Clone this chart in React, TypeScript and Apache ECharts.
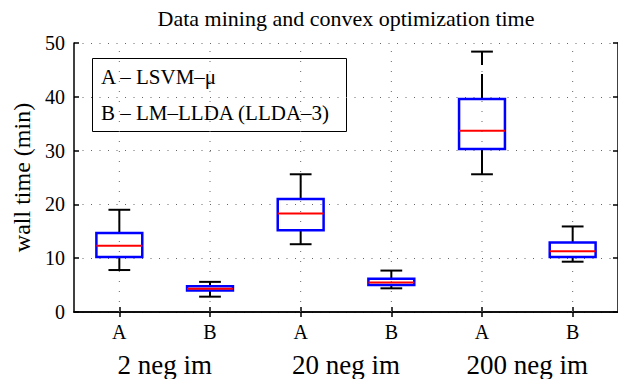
import React, { useEffect, useRef } from "react";
import * as echarts from "echarts";

const categories = ["A", "B", "A", "B", "A", "B"];
const groups = ["2 neg im", "20 neg im", "200 neg im"];
// [lowerWhisker, q1, median, q3, upperWhisker]
const lowerWhisker = [7.8, 2.85, 12.6, 4.4, 25.6, 9.35];
const q1 = [10.2, 4.0, 15.2, 5.0, 30.3, 10.2];
const median = [12.3, 4.3, 18.3, 5.5, 33.7, 11.3];
const q3 = [14.7, 4.8, 21.0, 6.2, 39.6, 12.9];
const upperWhisker = [19.0, 5.6, 25.6, 7.7, 48.4, 15.9];
const legendLines = ["A – LSVM–μ", "B – LM–LLDA (LLDA–3)"];
const title = "Data mining and convex optimization time";
const yName = "wall time (min)";

const FONT = '"Liberation Serif", serif';

export default function App() {
  const ref = useRef<HTMLDivElement>(null);
  useEffect(() => {
    if (!ref.current) return;
    const chart = echarts.init(ref.current, undefined, { renderer: "svg" });
    const data = categories.map((_, i) => [
      i,
      lowerWhisker[i],
      q1[i],
      median[i],
      q3[i],
      upperWhisker[i],
    ]);
    const option: any = {
      animation: false,
      backgroundColor: "#ffffff",
      textStyle: { fontFamily: FONT },
      grid: { left: 74, top: 43, width: 545, height: 269 },
      graphic: [
        {
          type: "text",
          x: 346,
          y: 18,
          style: {
            text: title,
            textAlign: "center",
            textVerticalAlign: "middle",
            fontSize: 22,
            fontFamily: FONT,
            fill: "#000",
          },
        },
        {
          type: "group",
          z: 100,
          children: [
            {
              type: "rect",
              shape: { x: 92.5, y: 58.5, width: 254, height: 73 },
              style: { fill: "#fff", stroke: "#000", lineWidth: 1 },
            },
            {
              type: "text",
              x: 101,
              y: 77,
              style: {
                text: legendLines[0],
                textVerticalAlign: "middle",
                fontSize: 21,
                fontFamily: FONT,
                fill: "#000",
              },
            },
            {
              type: "text",
              x: 101,
              y: 113,
              style: {
                text: legendLines[1],
                textVerticalAlign: "middle",
                fontSize: 21,
                fontFamily: FONT,
                fill: "#000",
              },
            },
          ],
        },
      ],
      xAxis: [
        {
          type: "category",
          data: categories,
          position: "bottom",
          boundaryGap: true,
          axisLine: { show: true, lineStyle: { color: "#000", width: 1.5 } },
          axisTick: { show: true, inside: true, alignWithLabel: true, length: 5, lineStyle: { color: "#000", width: 1.5 } },
          axisLabel: { color: "#000", fontSize: 20, fontFamily: FONT, margin: 10 },
          splitLine: { show: false },
        },
        {
          type: "category",
          data: categories,
          position: "top",
          boundaryGap: true,
          axisLine: { show: true, lineStyle: { color: "#000", width: 1.5 } },
          axisTick: { show: true, inside: true, alignWithLabel: true, length: 5, lineStyle: { color: "#000", width: 1.5 } },
          axisLabel: { show: false },
          splitLine: { show: false },
        },
        {
          type: "category",
          data: groups,
          position: "bottom",
          offset: 30,
          boundaryGap: true,
          axisLine: { show: false },
          axisTick: { show: false },
          axisLabel: { color: "#000", fontSize: 27, fontFamily: FONT, margin: 9 },
          splitLine: { show: false },
        },
      ],
      yAxis: [
        {
          type: "value",
          min: 0,
          max: 50,
          interval: 10,
          position: "left",
          name: yName,
          nameLocation: "middle",
          nameGap: 39,
          nameTextStyle: { color: "#000", fontSize: 24, fontFamily: FONT },
          axisLine: { show: true, lineStyle: { color: "#000", width: 1.5 } },
          axisTick: { show: true, inside: true, length: 5, lineStyle: { color: "#000", width: 1.5 } },
          axisLabel: { color: "#000", fontSize: 20, fontFamily: FONT, margin: 9 },
          splitLine: { show: true, lineStyle: { color: "#666", width: 1, type: [1, 7.5] } },
        },
        {
          type: "value",
          min: 0,
          max: 50,
          interval: 10,
          position: "right",
          axisLine: { show: true, lineStyle: { color: "#000", width: 1.5 } },
          axisTick: { show: true, inside: true, length: 5, lineStyle: { color: "#000", width: 1.5 } },
          axisLabel: { show: false },
          splitLine: { show: false },
        },
      ],
      series: [
        {
          type: "custom",
          xAxisIndex: 0,
          yAxisIndex: 0,
          encode: { x: 0, y: [1, 2, 3, 4, 5] },
          data,
          renderItem: (params: any, api: any) => {
            const xi = api.value(0);
            const lo = api.coord([xi, api.value(1)]);
            const b1 = api.coord([xi, api.value(2)]);
            const md = api.coord([xi, api.value(3)]);
            const b3 = api.coord([xi, api.value(4)]);
            const hi = api.coord([xi, api.value(5)]);
            const top = api.coord([xi, 50])[1];
            const bottom = api.coord([xi, 0])[1];
            const band = api.size([1, 0])[0];
            const bw = band * 0.253;
            const cw = band * 0.12;
            const cx = lo[0];
            return {
              type: "group",
              children: [
                {
                  type: "line",
                  shape: { x1: cx, y1: bottom, x2: cx, y2: top },
                  style: { stroke: "#666", lineWidth: 1, lineDash: [1, 9] },
                },
                {
                  type: "line",
                  shape: { x1: cx, y1: b3[1], x2: cx, y2: hi[1] },
                  style: { stroke: "#000", lineWidth: 2, lineDash: [25, 9] },
                },
                {
                  type: "line",
                  shape: { x1: cx, y1: b1[1], x2: cx, y2: lo[1] },
                  style: { stroke: "#000", lineWidth: 2, lineDash: [25, 9] },
                },
                {
                  type: "line",
                  shape: { x1: cx - cw, y1: hi[1], x2: cx + cw, y2: hi[1] },
                  style: { stroke: "#000", lineWidth: 2 },
                },
                {
                  type: "line",
                  shape: { x1: cx - cw, y1: lo[1], x2: cx + cw, y2: lo[1] },
                  style: { stroke: "#000", lineWidth: 2 },
                },
                {
                  type: "rect",
                  shape: { x: cx - bw, y: b3[1], width: 2 * bw, height: b1[1] - b3[1] },
                  style: { fill: "none", stroke: "#0000ff", lineWidth: 2.5 },
                },
                {
                  type: "line",
                  shape: { x1: cx - bw, y1: md[1], x2: cx + bw, y2: md[1] },
                  style: { stroke: "#ff0000", lineWidth: 2 },
                },
              ],
            };
          },
        },
      ],
    };
    chart.setOption(option);
    return () => chart.dispose();
  }, []);
  return (
    <div
      ref={ref}
      style={{ position: "fixed", left: 0, top: 0, width: 618, height: 379 }}
    />
  );
}
